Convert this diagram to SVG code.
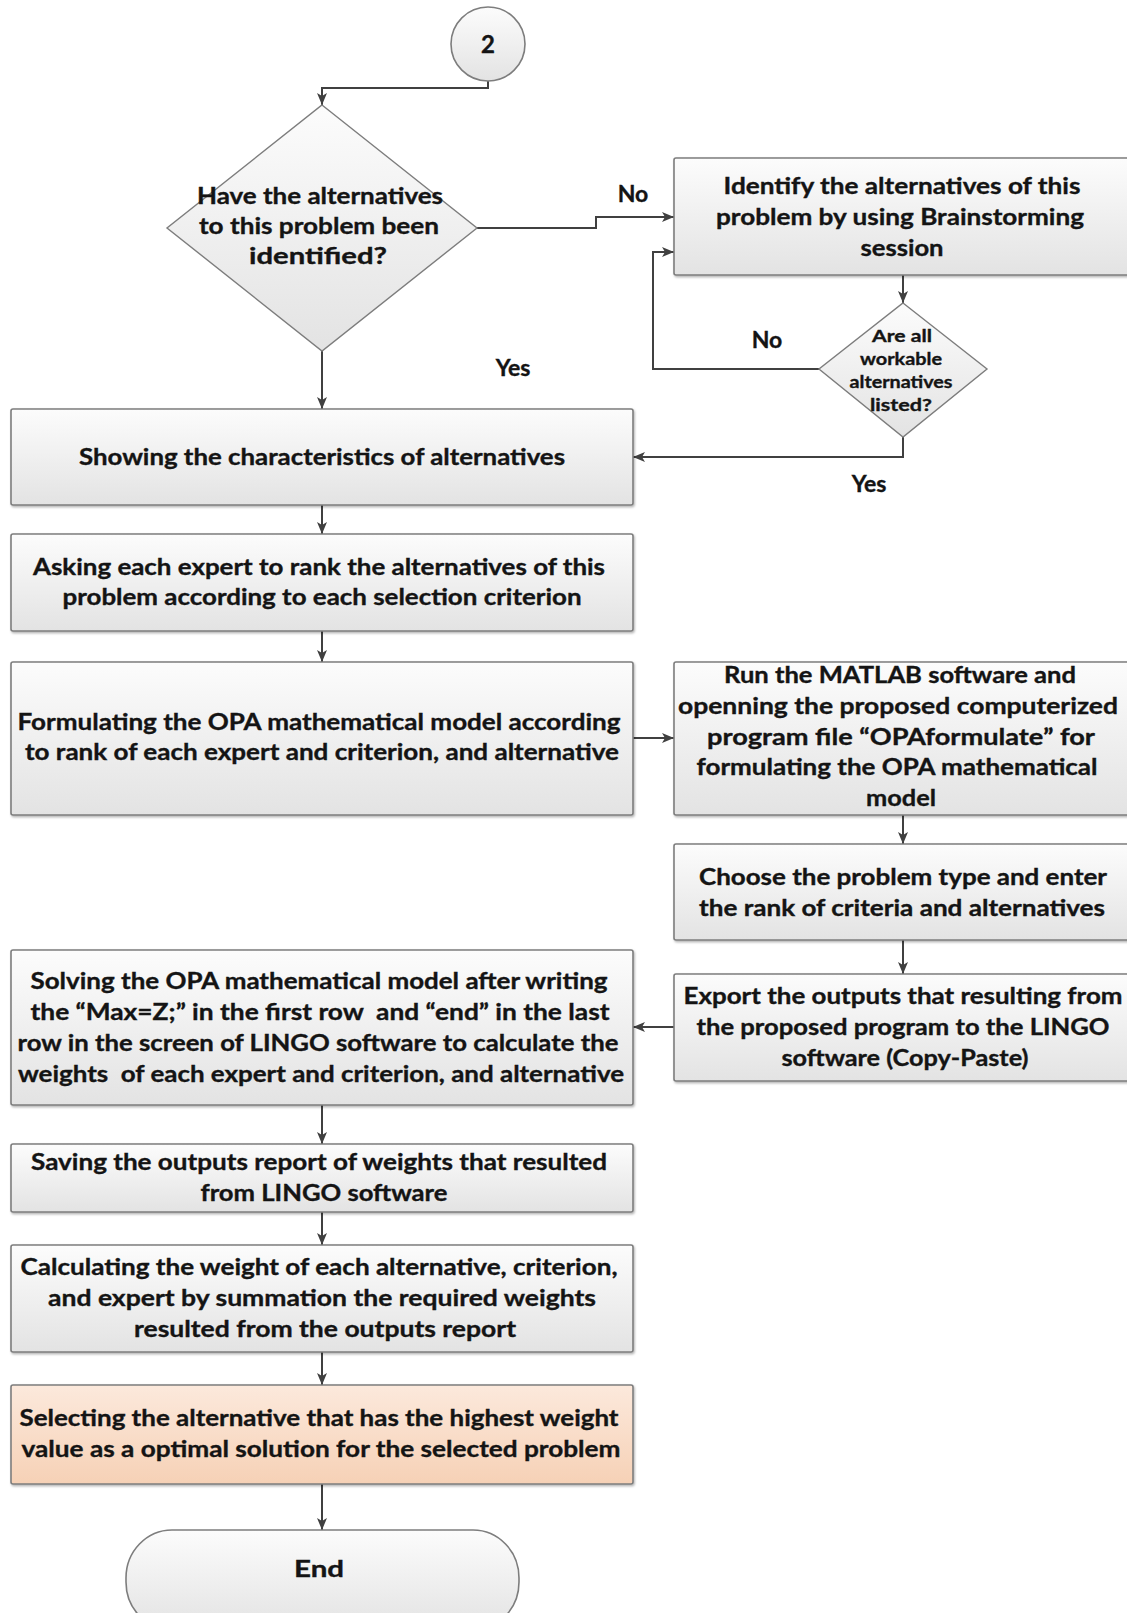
<svg xmlns="http://www.w3.org/2000/svg" width="1127" height="1613" viewBox="0 0 1127 1613">
<style>
.box{fill:url(#gGray);stroke:#7d7d7d;stroke-width:1.6;filter:url(#sh)}
.org{fill:url(#gOrg);stroke:#7d7d7d;stroke-width:1.6;filter:url(#sh)}
.dia{fill:url(#gGray);stroke:#7d7d7d;stroke-width:1.4}
.ca{fill:none;stroke:#404040;stroke-width:2;marker-end:url(#arr)}
text{font-family:Lato,"Liberation Sans",sans-serif;font-weight:700;fill:#141414;stroke:#141414;stroke-width:0.35;text-anchor:middle}
.t{font-size:22.5px}
.l{font-size:23px}
.s{font-size:17px}
.pre{white-space:pre}
</style>
<defs>
<linearGradient id="gGray" x1="0" y1="0" x2="0" y2="1">
<stop offset="0" stop-color="#fcfcfc"/>
<stop offset="1" stop-color="#e3e3e3"/>
</linearGradient>
<linearGradient id="gOrg" x1="0" y1="0" x2="0" y2="1">
<stop offset="0" stop-color="#fce9dc"/>
<stop offset="1" stop-color="#f6d1b6"/>
</linearGradient>
<filter id="sh" x="-5%" y="-5%" width="110%" height="115%">
<feDropShadow dx="1" dy="1.5" stdDeviation="1" flood-color="#000" flood-opacity="0.3"/>
</filter>
<marker id="arr" markerUnits="userSpaceOnUse" markerWidth="13" markerHeight="12" refX="12" refY="6" orient="auto">
<path d="M0,1 L12,6 L0,11 L3,6 z" fill="#404040"/>
</marker>
</defs>
<rect width="1127" height="1613" fill="#ffffff"/>

<g id="connectors">
<path class="ca" d="M488,81 V88 H322 V105"/>
<path class="ca" d="M477,228 H596 V217 H674"/>
<path class="ca" d="M903,275 V303"/>
<path class="ca" d="M820,369 H653 V252 H674"/>
<path class="ca" d="M903,436 V457 H633"/>
<path class="ca" d="M322,351 V409"/>
<path class="ca" d="M322,505 V534"/>
<path class="ca" d="M322,631 V662"/>
<path class="ca" d="M633,738 H674"/>
<path class="ca" d="M903,815 V844"/>
<path class="ca" d="M903,940 V974"/>
<path class="ca" d="M674,1027 H633"/>
<path class="ca" d="M322,1105 V1144"/>
<path class="ca" d="M322,1212 V1245"/>
<path class="ca" d="M322,1352 V1385"/>
<path class="ca" d="M322,1484 V1530"/>
<text class="l" x="633" y="202">No</text>
<text class="l" x="767" y="348">No</text>
<text class="l" x="513" y="376">Yes</text>
<text class="l" x="869" y="492">Yes</text>
</g>

<g id="start">
<circle cx="488" cy="44" r="37" fill="url(#gGray)" stroke="#7d7d7d" stroke-width="1.6"/>
<text x="488" y="53" font-size="24">2</text>
</g>

<g id="decision1">
<polygon class="dia" points="322,105 477,228 322,351 167,228"/>
<text class="t" x="320" y="204" textLength="246" lengthAdjust="spacingAndGlyphs">Have the alternatives</text>
<text class="t" x="319" y="234" textLength="240" lengthAdjust="spacingAndGlyphs">to this problem been</text>
<text class="t" x="318" y="264" textLength="138" lengthAdjust="spacingAndGlyphs">identified?</text>
</g>

<g id="identify">
<rect class="box" x="674" y="158" width="460" height="117" rx="2"/>
<text class="t" x="902" y="194" textLength="357" lengthAdjust="spacingAndGlyphs">Identify the alternatives of this</text>
<text class="t" x="900" y="225" textLength="368" lengthAdjust="spacingAndGlyphs">problem by using Brainstorming</text>
<text class="t" x="902" y="256" textLength="83" lengthAdjust="spacingAndGlyphs">session</text>
</g>

<g id="decision2">
<polygon class="dia" points="903,303 987,369 903,437 819,369"/>
<text class="s" x="902" y="342" textLength="60" lengthAdjust="spacingAndGlyphs">Are all</text>
<text class="s" x="901" y="365" textLength="82" lengthAdjust="spacingAndGlyphs">workable</text>
<text class="s" x="901" y="388" textLength="103" lengthAdjust="spacingAndGlyphs">alternatives</text>
<text class="s" x="901" y="411" textLength="62" lengthAdjust="spacingAndGlyphs">listed?</text>
</g>

<g id="showing">
<rect class="box" x="11" y="409" width="622" height="96" rx="2"/>
<text class="t" x="322" y="465" textLength="486" lengthAdjust="spacingAndGlyphs">Showing the characteristics of alternatives</text>
</g>

<g id="asking">
<rect class="box" x="11" y="534" width="622" height="97" rx="2"/>
<text class="t" x="319" y="575" textLength="572" lengthAdjust="spacingAndGlyphs">Asking each expert to rank the alternatives of this</text>
<text class="t" x="322" y="605" textLength="519" lengthAdjust="spacingAndGlyphs">problem according to each selection criterion</text>
</g>

<g id="formulating">
<rect class="box" x="11" y="662" width="622" height="153" rx="2"/>
<text class="t" x="319" y="730" textLength="603" lengthAdjust="spacingAndGlyphs">Formulating the OPA mathematical model according</text>
<text class="t" x="322" y="760" textLength="594" lengthAdjust="spacingAndGlyphs">to rank of each expert and criterion, and alternative</text>
</g>

<g id="matlab">
<rect class="box" x="674" y="662" width="460" height="153" rx="2"/>
<text class="t" x="900" y="683" textLength="352" lengthAdjust="spacingAndGlyphs">Run the MATLAB software and</text>
<text class="t" x="898" y="714" textLength="440" lengthAdjust="spacingAndGlyphs">openning the proposed computerized</text>
<text class="t" x="901" y="745" textLength="388" lengthAdjust="spacingAndGlyphs">program file “OPAformulate” for</text>
<text class="t" x="897" y="775" textLength="401" lengthAdjust="spacingAndGlyphs">formulating the OPA mathematical</text>
<text class="t" x="901" y="806" textLength="70" lengthAdjust="spacingAndGlyphs">model</text>
</g>

<g id="choose">
<rect class="box" x="674" y="844" width="460" height="96" rx="2"/>
<text class="t" x="903" y="885" textLength="408" lengthAdjust="spacingAndGlyphs">Choose the problem type and enter</text>
<text class="t" x="902" y="916" textLength="406" lengthAdjust="spacingAndGlyphs">the rank of criteria and alternatives</text>
</g>

<g id="export">
<rect class="box" x="674" y="974" width="460" height="107" rx="2"/>
<text class="t" x="903" y="1004" textLength="439" lengthAdjust="spacingAndGlyphs">Export the outputs that resulting from</text>
<text class="t" x="903" y="1035" textLength="413" lengthAdjust="spacingAndGlyphs">the proposed program to the LINGO</text>
<text class="t" x="905" y="1066" textLength="247" lengthAdjust="spacingAndGlyphs">software (Copy-Paste)</text>
</g>

<g id="solving">
<rect class="box" x="11" y="950" width="622" height="155" rx="2"/>
<text class="t" x="319" y="989" textLength="577" lengthAdjust="spacingAndGlyphs">Solving the OPA mathematical model after writing</text>
<text class="t pre" x="320" y="1020" textLength="579" lengthAdjust="spacingAndGlyphs">the “Max=Z;” in the first row  and “end” in the last</text>
<text class="t" x="318" y="1051" textLength="601" lengthAdjust="spacingAndGlyphs">row in the screen of LINGO software to calculate the</text>
<text class="t pre" x="321" y="1082" textLength="606" lengthAdjust="spacingAndGlyphs">weights  of each expert and criterion, and alternative</text>
</g>

<g id="saving">
<rect class="box" x="11" y="1144" width="622" height="68" rx="2"/>
<text class="t" x="319" y="1170" textLength="576" lengthAdjust="spacingAndGlyphs">Saving the outputs report of weights that resulted</text>
<text class="t" x="324" y="1201" textLength="247" lengthAdjust="spacingAndGlyphs">from LINGO software</text>
</g>

<g id="calculating">
<rect class="box" x="11" y="1245" width="622" height="107" rx="2"/>
<text class="t" x="319" y="1275" textLength="597" lengthAdjust="spacingAndGlyphs">Calculating the weight of each alternative, criterion,</text>
<text class="t" x="322" y="1306" textLength="548" lengthAdjust="spacingAndGlyphs">and expert by summation the required weights</text>
<text class="t" x="325" y="1337" textLength="382" lengthAdjust="spacingAndGlyphs">resulted from the outputs report</text>
</g>

<g id="selecting">
<rect class="org" x="11" y="1385" width="622" height="99" rx="2"/>
<text class="t" x="319" y="1426" textLength="599" lengthAdjust="spacingAndGlyphs">Selecting the alternative that has the highest weight</text>
<text class="t" x="321" y="1457" textLength="599" lengthAdjust="spacingAndGlyphs">value as a optimal solution for the selected problem</text>
</g>

<g id="end">
<rect x="126" y="1530" width="393" height="100" rx="46" ry="48" fill="url(#gGray)" stroke="#7d7d7d" stroke-width="1.6"/>
<text class="t" x="319" y="1577" textLength="50" lengthAdjust="spacingAndGlyphs">End</text>
</g>
</svg>
